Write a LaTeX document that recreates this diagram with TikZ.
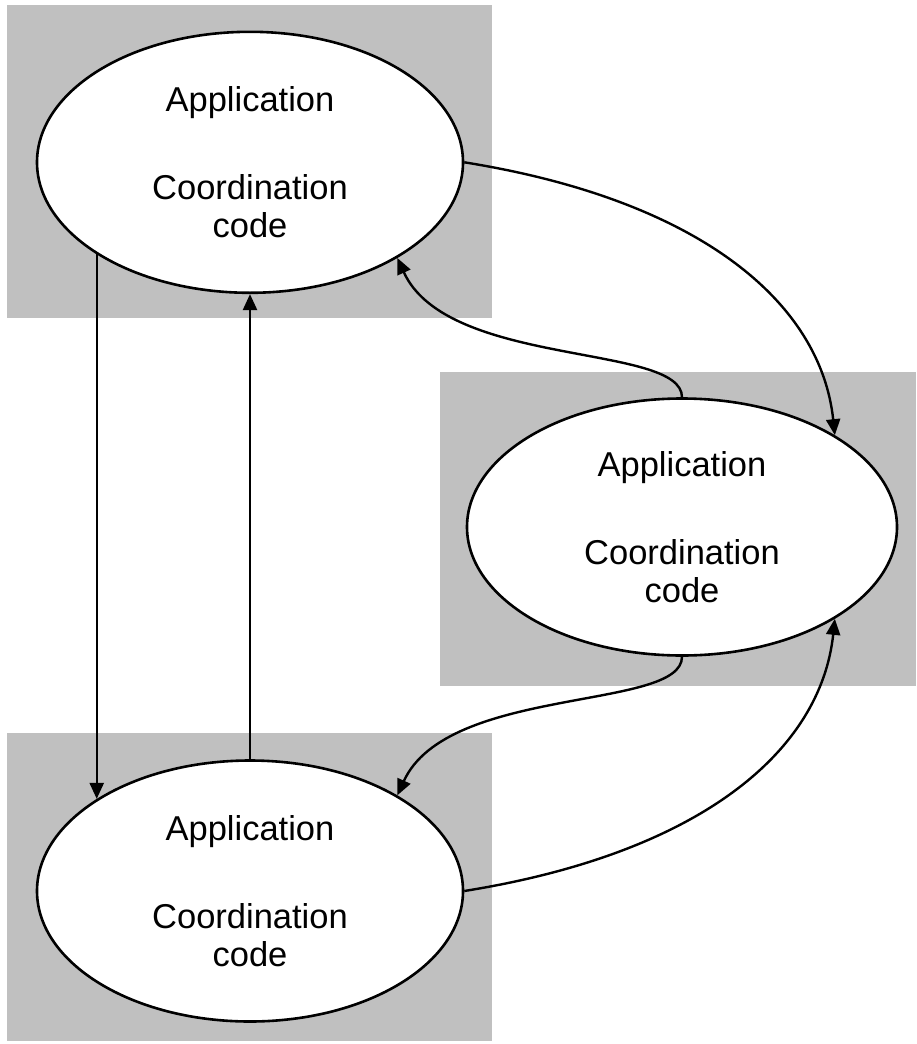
\documentclass[tikz,border=0pt]{standalone}
\usepackage{fontspec}
\setmainfont{Liberation Sans}
\usetikzlibrary{shapes.geometric,arrows.meta}
\definecolor{panel}{HTML}{C0C0C0}
\begin{document}
\begin{tikzpicture}[x=1pt,y=-1pt,
  panelbox/.style={fill=panel},
  app/.style={ellipse, draw=black, fill=white, line width=2.6pt,
    minimum width=426pt, minimum height=261pt, inner sep=0pt,
    align=center, font=\fontsize{34.5}{38}\selectfont},
  link/.style={line width=2.4pt, draw=black,
    -{Triangle[length=16pt,width=14pt]}}]
\useasboundingbox (0,0) rectangle (916,1044);

% grey host panels
\fill[panelbox] (7,5) rectangle (492,318);
\fill[panelbox] (440,372) rectangle (916,686);
\fill[panelbox] (7,733) rectangle (492,1041);

% processes
\node[app] (top) at (250,162.3) {Application\\[50pt]Coordination\\code};
\node[app, minimum width=430pt, minimum height=257pt] (side) at (682,527)
  {Application\\[50pt]Coordination\\code};
\node[app] (bot) at (250,891) {Application\\[50pt]Coordination\\code};

% message flows
\draw[link] (bot.149.4 |- top.210.6) -- (bot.149.4);
\draw[link] (bot.north) -- (top.south);
\draw[link] (top.east) .. controls +(237,38) and +(-14,-132) .. (side.31);
\draw[link] (side.north) .. controls +(0,-54) and +(50,110) .. (top.-33);
\draw[link] (side.south) .. controls +(0,54) and +(50,-110) .. (bot.33);
\draw[link] (bot.east) .. controls +(237,-38) and +(-14,132) .. (side.-31);
\end{tikzpicture}
\end{document}
